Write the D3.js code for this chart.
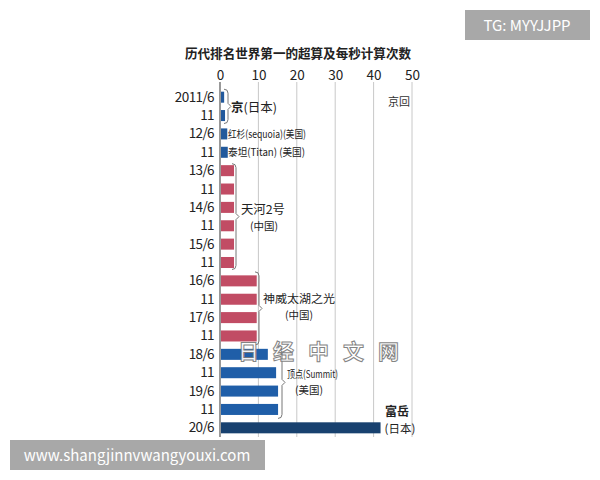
<!DOCTYPE html>
<html><head><meta charset="utf-8">
<script src="https://cdn.jsdelivr.net/npm/d3@7"></script>
<style>
body{margin:0;background:#fff;}
text{font-family:"Noto Sans CJK SC","Liberation Sans",sans-serif;}
</style></head>
<body><svg id="c" width="600" height="480"></svg>
<script>
const title = "历代排名世界第一的超算及每秒计算次数";
const periods = ["2011/6","11","12/6","11","13/6","11","14/6","11","15/6","11","16/6","11","17/6","11","18/6","11","19/6","11","20/6"];
const values = [0.82,1.05,1.63,1.76,3.39,3.39,3.39,3.39,3.39,3.39,9.3,9.3,9.3,9.3,12.2,14.35,14.86,14.86,41.55];
const groups = ["京","京","红杉","泰坦","天河","天河","天河","天河","天河","天河","神威","神威","神威","神威","顶点","顶点","顶点","顶点","富岳"];
const groupColors = {"京":"#22599c","红杉":"#22599c","泰坦":"#22599c","天河":"#c14c64","神威":"#c14c64","顶点":"#1f5ea8","富岳":"#18416f"};
const xTicks = [0,10,20,30,40,50];
const unitLabel = "京回";

const svg = d3.select("#c");
const x = d3.scaleLinear().domain([0,50]).range([220,412]);
const y = d3.scaleBand().domain(d3.range(periods.length)).range([88,437]).paddingInner(0.4).paddingOuter(0.2);

svg.append("text").attr("x",185).attr("y",58).attr("textLength",226).attr("lengthAdjust","spacingAndGlyphs")
  .attr("font-size",13).attr("font-weight",600).attr("fill","#222").text(title);

// grid
svg.append("g").selectAll("line").data(xTicks.slice(1)).join("line")
  .attr("x1",d=>x(d)).attr("x2",d=>x(d)).attr("y1",82).attr("y2",437)
  .attr("stroke","#c8c8c8").attr("stroke-width",1);
svg.append("line").attr("x1",x(0)).attr("x2",x(0)).attr("y1",82).attr("y2",437).attr("stroke","#555").attr("stroke-width",1.2);

// top axis labels
const ax = d3.axisTop(x).tickValues(xTicks).tickSize(0).tickPadding(0);
const axg = svg.append("g").attr("transform","translate(0,80)").call(ax);
axg.select(".domain").remove();
axg.selectAll("text").attr("font-family","'Liberation Sans',sans-serif").attr("font-size",13.5).attr("fill","#222");

svg.append("text").attr("x",x(50)-2).attr("y",106).attr("text-anchor","end").attr("font-size",11).attr("fill","#333").text(unitLabel);

// y labels
svg.append("g").selectAll("text").data(periods).join("text")
  .attr("x",214).attr("y",(d,i)=>y(i)+y.bandwidth()/2+4.5).attr("text-anchor","end")
  .attr("font-family","'Liberation Sans',sans-serif").attr("font-size",13.5).attr("letter-spacing",-0.6).attr("fill","#222").text(d=>d);

// bars
svg.append("g").selectAll("rect").data(values).join("rect")
  .attr("x",x(0)+1).attr("y",(d,i)=>y(i)).attr("height",y.bandwidth())
  .attr("width",d=>x(d)-x(0)).attr("fill",(d,i)=>groupColors[groups[i]]);

// brackets
function bracket(xb,y0,y1){
  const m=(y0+y1)/2;
  svg.append("path").attr("d",`M${xb-4},${y0} Q${xb},${y0} ${xb},${y0+4} L${xb},${m-3} L${xb+3},${m} L${xb},${m+3} L${xb},${y1-4} Q${xb},${y1} ${xb-4},${y1}`)
    .attr("fill","none").attr("stroke","#777").attr("stroke-width",1);
}
const rowC = i=>y(i)+y.bandwidth()/2;
bracket(228,rowC(0)-8,rowC(1)+8);
bracket(236,rowC(4)-7,rowC(9)+7);
bracket(259,rowC(10)-9,rowC(13)+9);
bracket(282,rowC(14)-8,rowC(17)+9);

function lab(t,xx,yy,fs,w,fw,anchor){
  const e=svg.append("text").attr("x",xx).attr("y",yy).attr("font-size",fs).attr("font-weight",fw||400)
   .attr("text-anchor",anchor||"start").attr("fill","#222").text(t);
  if(w) e.attr("textLength",w).attr("lengthAdjust","spacingAndGlyphs");
}
svg.append("text").attr("x",231).attr("y",112).attr("font-size",12.5).attr("fill","#222")
  .call(t=>{t.append("tspan").attr("font-weight",700).text("京");t.append("tspan").text("(日本)");});
lab("红杉(sequoia)(美国)",228,rowC(2)+4,10.5,78);
lab("泰坦(Titan)  (美国)",228,rowC(3)+4,10.5,77);
lab("天河2号",241,214,12,44);
lab("(中国)",250,230,10.5,28);
lab("神威太湖之光",263,303,11.5,72);
lab("(中国)",285,319,10.5,28);
lab("顶点(Summit)",287,378,10.5,51);
lab("(美国)",295,394,10.5,28);
lab("富岳",397,416,12,null,700,"middle");
lab("(日本)",400,433,11.5,null,400,"middle");

// watermark text
svg.append("text").attr("x",238).attr("y",359).attr("font-size",21).attr("font-weight",700)
  .attr("letter-spacing",14).attr("fill","#fff").attr("stroke","#7a7a7a").attr("stroke-width",1)
  .attr("opacity",0.92).text("日经中文网");

// overlay boxes
svg.append("rect").attr("x",465).attr("y",10).attr("width",125).attr("height",30).attr("fill","#a8a8a8");
svg.append("text").attr("x",527).attr("y",31).attr("text-anchor","middle").attr("font-family","'Liberation Sans',sans-serif")
  .attr("font-size",15).attr("fill","#fff").text("TG: MYYJJPP");
svg.append("rect").attr("x",10).attr("y",440).attr("width",255).attr("height",30).attr("fill","#a8a8a8");
svg.append("text").attr("x",137).attr("y",461).attr("text-anchor","middle").attr("font-family","'Liberation Sans',sans-serif")
  .attr("font-size",15).attr("fill","#fff").text("www.shangjinnvwangyouxi.com");
</script></body></html>
